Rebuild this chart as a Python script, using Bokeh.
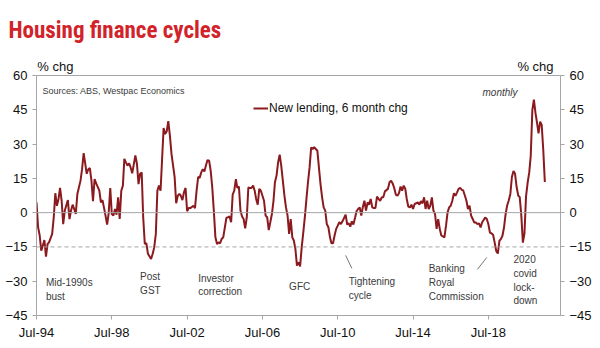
import pandas as pd
from bokeh.plotting import figure
from bokeh.models import (ColumnDataSource, Span, Label, Legend, LegendItem,
                          LinearAxis, FixedTicker, Range1d)
from bokeh.embed import file_html
from bokeh.resources import INLINE

# ---------------- data ----------------
title_text = "Housing finance cycles"
series_name = "New lending, 6 month chg"
source_note = "Sources: ABS, Westpac Economics"
freq_note = "monthly"
y_unit = "% chg"
start_month = "1994-07-01"

# months after Jul-1994
month_offset = [
    0, 1, 2, 3, 4, 5, 6, 7, 8, 10, 11, 12, 13, 14, 15, 16, 17, 18, 20, 21, 22, 23, 24, 25, 26, 28, 29,
    30, 31, 32, 33, 34, 35, 36, 37, 38, 40, 41, 42, 43, 44, 45, 46, 47, 48, 49, 50, 51, 52, 53, 54, 55,
    56, 57, 58, 59, 60, 61, 63, 64, 65, 66, 67, 68, 69, 70, 71, 73, 74, 75, 76, 77, 78, 79, 80, 81, 82,
    83, 84, 85, 86, 88, 89, 90, 91, 92, 93, 94, 95, 96, 97, 98, 100, 101, 102, 103, 104, 105, 106, 107,
    108, 109, 110, 111, 112, 113, 114, 115, 116, 117, 118, 119, 121, 122, 123, 124, 125, 126, 127, 128,
    129, 130, 131, 132, 133, 134, 135, 136, 137, 138, 139, 140, 141, 142, 143, 145, 146, 147, 148, 149,
    150, 151, 152, 153, 154, 155, 156, 157, 158, 159, 160, 161, 162, 163, 164, 165, 166, 167, 168, 169,
    170, 171, 172, 173, 174, 175, 176, 177, 179, 180, 181, 182, 183, 184, 185, 186, 187, 188, 189, 190,
    191, 192, 193, 194, 195, 197, 198, 199, 200, 201, 202, 203, 204, 205, 206, 207, 208, 209, 210, 211,
    212, 213, 214, 215, 216, 217, 218, 219, 220, 221, 222, 224, 225, 226, 227, 228, 229, 230, 231, 232,
    233, 234, 235, 236, 237, 238, 239, 240, 241, 242, 243, 244, 245, 246, 247, 248, 249, 250, 251, 252,
    253, 254, 255, 256, 257, 258, 260, 261, 262, 263, 264, 265, 266, 267, 268, 269, 270, 271, 272, 273,
    274, 275, 276, 277, 278, 279, 280, 281, 282, 283, 284, 286, 287, 288, 289, 290, 291, 292, 293, 294,
    295, 296, 297, 298, 299, 300, 301, 302, 303, 304, 305, 306, 307, 308, 309, 310, 311, 312, 313, 314,
    315, 316, 317, 318, 319, 320, 321, 322, 323, 324,
]
pct_chg = [
    4.5, -6.4, -10, -16.6, -14.4, -12, -19.2, -13.7, -13, -9.3, -2, 8.5, 3, 6, 10.8, 5.2, -5, 0.9, 5.5, -2.8, 0.9, 3.5, 1.6, -0.6, 8.2, 14, 19,
    26, 21.3, 17, 19, 19.5, 14, 5, 14.7, 12.8, 9.6, 4.5, 5.5, 2, -1.3, -5.2, -0.3, 10.8, -0.6, -1.3, 1.6, -0.9, 6.7, -2.8, 9.6, 11.8,
    23.5, 22, 20.6, 21.6, 19.8, 17.2, 25, 21.3, 12.5, 17, 17.6, -2, -13.7, -13.4, -18, -20.3, -18, -15.2, -9.3, 9.6, 11.8, 9.6, 22.7, 37, 34.4,
    35.6, 40, 33.7, 25.7, 15.5, 4.1, 7.4, 8.2, 7.4, 5.5, 8.9, 10.8, 0.6, 2, 2, 3, 2, 9.6, 15.7, 15.2, 17.6, 19, 18,
    20.6, 23, 22.7, 18.4, 11, 0.9, -10.8, -13.7, -13, -13.4, -11.5, -10.8, -2.3, -2, -1.7, -4.2, 7.9, 9.6, 14.7, 10.8,
    11.4, 0.9, -1.7, -2.8, -6.9, -2, 11, 10.8, 10.8, 11.8, 9.6, 6, 3.5, 10.4, 9.6, 5.2, -1.3, -2, -7.6, -4.2,
    -0.6, 5.2, 13.3, 16.2, 22, 25.4, 20.6, 14, 7.4, 2.3, -1.3, -9.3, -2.8, -10.8, -12.2, -15.9, -23.2, -21.7, -23.5, -15.2,
    -8.6, -2, 6, 13.3, 19.8, 28.6, 27.8, 28.6, 27.1, 19.8, 12.5, 6.7, 2.3, 0.9, -5, -6.4, -10.8, -13.4, -13.4, -10,
    -7.1, -5.7, -4.2, -5, -3.8, -0.9, -5.2, -4.7, -6.1, -3.8, -5.2, -2.3, 0.6, 1.6, 2.3, -1.3, 2.6, 5.2, 0.9, 4.5,
    3.5, 6, 2.3, 2, 2, 7, 6, 5.2, 6.7, 6.7, 9.3, 10.4, 13.3, 14, 12.8, 10.8, 7.9, 7.4, 8.5, 11.4,
    9.6, 11.8, 10.4, 6, 2.6, 2.3, 3.5, 1.6, 3.8, 4.1, 4.5, 3.5, 5, 4.1, 6.7, 1.6, 5.2, 1.6, 3, 6.7,
    0.9, -0.6, -7.1, -2.8, -7.1, -10, -10.8, -5.7, 0.1, 2.3, 3, 5.2, 8.5, 7.4, 8.9, 10.4, 10.8, 10, 9.7, 7.5,
    5.3, 1.6, 3.1, -1.3, -2.8, -4.3, -4.3, -5, -4.7, -6.5, -4.3, -2.1, -2.8, -5, -8.7, -9.1, -9.7, -13.1, -16.8, -17.9,
    -12.3, -11.6, -10.1, -6.5, -0.6, 3.1, 5.3, 8.2, 15.6, 18.2, 17, 11.2, 7.5, 6.8, -1.3, -13.1, -9, 7, 13, 17.5,
    25, 45, 49.4, 43.5, 39.1, 34.7, 39.8, 38.4, 27.3, 13.4,
]

y_ticks = [-45, -30, -15, 0, 15, 30, 45, 60]
x_tick_dates = ["1994-07-01", "1998-07-01", "2002-07-01", "2006-07-01",
                "2010-07-01", "2014-07-01", "2018-07-01"]
x_tick_labels = ["Jul-94", "Jul-98", "Jul-02", "Jul-06", "Jul-10", "Jul-14", "Jul-18"]
reference_level = -15

event_labels = ["Mid-1990s\nbust", "Post\nGST", "Investor\ncorrection", "GFC",
                "Tightening\ncycle", "Banking\nRoyal\nCommission", "2020\ncovid\nlock-\ndown"]

# ---------------- helpers ----------------
base = pd.Timestamp(start_month)


def to_ms(ts):
    return pd.Timestamp(ts).timestamp() * 1000.0


def month_ms(m):
    return to_ms(base + pd.DateOffset(months=int(m)))


dates = [base + pd.DateOffset(months=m) for m in month_offset]
src = ColumnDataSource(dict(date=dates, value=pct_chg))

FONT = "Liberation Sans"
LINE_RED = "#8b1a1f"
GREY = "#a6a6a6"
TXT = "#3a3a3a"

p = figure(width=600, height=348, x_axis_type="datetime",
           x_range=Range1d(to_ms("1994-07-01"), to_ms("2022-05-01")),
           y_range=Range1d(-45, 60),
           output_backend="svg", toolbar_location=None,
           min_border_left=36, min_border_right=40,
           min_border_top=75, min_border_bottom=33)
p.xgrid.visible = False
p.ygrid.visible = False
p.outline_line_color = GREY
p.outline_line_width = 1
p.background_fill_color = "white"
p.border_fill_color = "white"

# reference lines
p.add_layout(Span(location=0, dimension="width", line_color=GREY, line_width=1))
p.add_layout(Span(location=reference_level, dimension="width", line_color=GREY,
                  line_width=1, line_dash="4 3"))

line = p.line("date", "value", source=src, line_color=LINE_RED, line_width=2)


def style_axis(ax):
    ax.axis_line_color = GREY
    ax.major_tick_line_color = GREY
    ax.major_tick_out = 4
    ax.major_tick_in = 0
    ax.minor_tick_line_color = None
    ax.major_label_text_font = FONT
    ax.major_label_text_font_size = "13px"
    ax.major_label_text_color = "#111111"
    ax.major_label_standoff = 5


p.yaxis.ticker = FixedTicker(ticks=y_ticks)
style_axis(p.yaxis[0])
right_axis = LinearAxis(ticker=FixedTicker(ticks=y_ticks))
style_axis(right_axis)
p.add_layout(right_axis, "right")

xt = [to_ms(d) for d in x_tick_dates]
p.xaxis.ticker = FixedTicker(ticks=xt)
p.xaxis.major_label_overrides = {t: lab for t, lab in zip(xt, x_tick_labels)}
style_axis(p.xaxis[0])

# unit captions above both value axes (an unlined axis on top of the frame)
unit_pos = [month_ms(12), month_ms(318)]
top_axis = LinearAxis(ticker=FixedTicker(ticks=unit_pos),
                      major_label_overrides={t: y_unit for t in unit_pos})
top_axis.axis_line_color = None
top_axis.major_tick_line_color = None
top_axis.minor_tick_line_color = None
top_axis.major_tick_out = 0
top_axis.major_tick_in = 0
top_axis.major_label_standoff = 2
top_axis.major_label_text_font = FONT
top_axis.major_label_text_font_size = "13px"
top_axis.major_label_text_color = "#111111"
p.add_layout(top_axis, "above")

# title
p.title.text = title_text
p.title.align = "left"
p.title.offset = -28
p.title.standoff = 24
p.title.text_font = "Roboto Condensed, Roboto"
p.title.text_font_style = "bold"
p.title.text_font_size = "23px"
p.title.text_color = "#d2232a"

legend = Legend(items=[LegendItem(label=series_name, renderers=[line])],
                location=(217, 200), padding=0, margin=0, spacing=0,
                border_line_alpha=0, background_fill_alpha=0,
                glyph_width=15, glyph_height=14, label_height=14,
                label_standoff=1, label_text_font=FONT,
                label_text_font_size="12px", label_text_color="#111111")
p.add_layout(legend)

p.add_layout(Label(x=6, y=225, x_units="screen", y_units="screen", text=source_note,
                   text_font=FONT, text_font_size="9px", text_color=TXT,
                   text_baseline="middle"))
p.add_layout(Label(x=446, y=223, x_units="screen", y_units="screen", text=freq_note,
                   text_font=FONT, text_font_size="10px", text_font_style="italic",
                   text_color=TXT, text_baseline="middle"))

event_month = [6, 66, 103, 161, 199, 250, 304]
event_top = [-28.3, -25.7, -26.2, -30.0, -27.7, -22.2, -18.2]
for lab, m, yv in zip(event_labels, event_month, event_top):
    p.add_layout(Label(x=month_ms(m), y=yv, text=lab, text_font=FONT,
                       text_font_size="10px", text_color=TXT, text_baseline="top",
                       text_line_height=1.25))

p.segment(x0=[month_ms(197), month_ms(281)], y0=[-18.7, -24.8],
          x1=[month_ms(201), month_ms(287)], y1=[-24.4, -19.6],
          line_color="#777777", line_width=1)

open("out.html", "w").write(file_html(p, INLINE))
